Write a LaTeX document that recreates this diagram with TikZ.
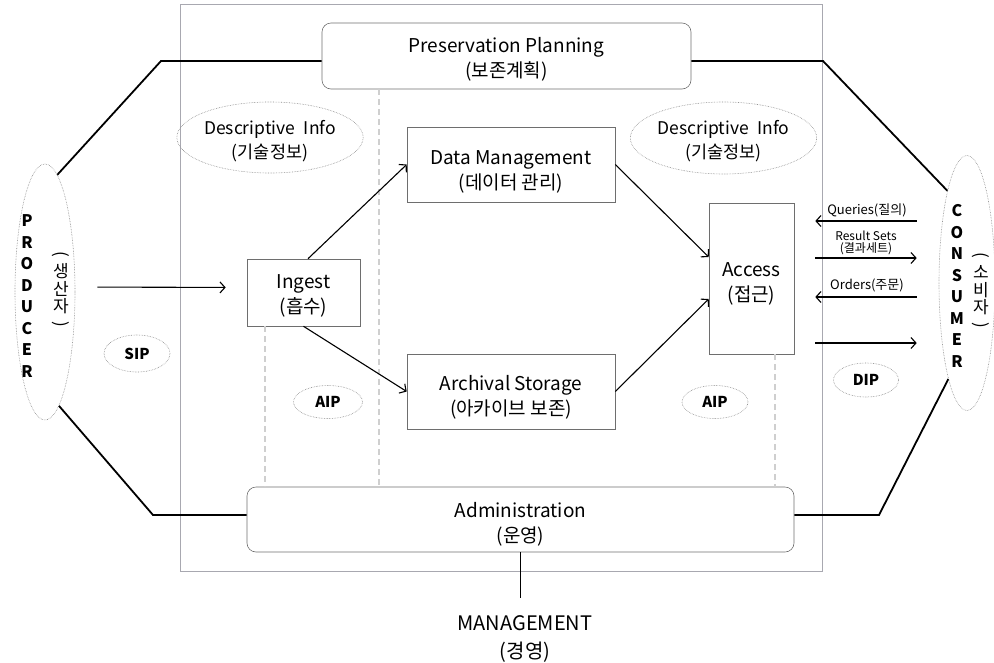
\documentclass[tikz,border=0pt]{standalone}
\usepackage{fontspec}
\setmainfont{Noto Sans CJK KR}
\usetikzlibrary{arrows.meta,shapes.geometric}
\definecolor{boxgray}{HTML}{6E6E6E}
\definecolor{framegray}{HTML}{A8A8B0}
\definecolor{ovalgray}{HTML}{8A8A8A}
\definecolor{guidegray}{HTML}{CFCFCF}
\newcommand{\topparen}{\rotatebox[origin=c]{-90}{(}}
\newcommand{\botparen}{\rotatebox[origin=c]{-90}{)}}
% invisible strut that lowers a two-line label inside its box
\newcommand{\dropby}[1]{\rule{0pt}{#1}}
\begin{document}
\begin{tikzpicture}[x=1pt,y=-1pt,
  block/.style={draw=boxgray, line width=0.6pt, align=center, inner sep=0pt,
    font=\fontsize{19}{25.5}\selectfont},
  roundblock/.style={block, rounded corners=9pt},
  oval/.style={ellipse, draw=ovalgray, densely dotted, line width=0.6pt,
    inner sep=0pt, align=center},
  link/.style={line width=1.8pt, black},
  flow/.style={line width=1.1pt, black, -{Straight Barb[length=5pt,width=11pt]}},
  guide/.style={draw=guidegray, line width=1.1pt, dash pattern=on 6pt off 4pt},
  sidelabel/.style={inner sep=0pt, align=center, font=\bfseries\fontsize{16}{21.5}\selectfont},
  vkorean/.style={inner sep=0pt, align=center, font=\fontsize{17}{17.5}\selectfont},
  tag/.style={inner sep=0pt, align=center, font=\fontsize{13}{14}\selectfont},
  packet/.style={oval, font=\bfseries\fontsize{15}{16}\selectfont}
]
\useasboundingbox (0,0) rectangle (994,662);

% system boundary
\node[draw=framegray, line width=0.6pt, minimum width=642pt, minimum height=567pt,
  inner sep=0pt] (frame) at (501,287.5) {};

% guide columns
\coordinate (lcol) at (265,0);
\coordinate (mcol) at (379,0);
\coordinate (rcol) at (775,0);

% functional entities
\node[roundblock, minimum width=369pt, minimum height=66pt] (pp) at (506.5,56)
  {\dropby{21.5pt}Preservation Planning\\(보존계획)};
\node[roundblock, minimum width=547pt, minimum height=65pt] (admin) at (520.5,519.5)
  {\dropby{24.5pt}Administration\\(운영)};
\node[block, minimum width=113pt, minimum height=67pt] (ingest) at (303.5,292.5)
  {\dropby{21pt}Ingest\\(흡수)};
\node[block, minimum width=208pt, minimum height=75pt] (dm) at (511,164.5)
  {\dropby{28.5pt}Data Management\\(데이터 관리)};
\node[block, minimum width=208pt, minimum height=75pt] (as) at (511,391.5)
  {\dropby{26.5pt}Archival Storage\\(아카이브 보존)};
\node[block, minimum width=85pt, minimum height=151pt] (access) at (751.5,278.5)
  {\dropby{24.5pt}Access\\(접근)};

% dashed separators
\draw[guide] (ingest.south -| lcol) -- (admin.north -| lcol);
\draw[guide] (pp.south -| mcol) -- (admin.north -| mcol);
\draw[guide] (access.south -| rcol) -- (admin.north -| rcol);

% outside actors
\node[oval, minimum width=60pt, minimum height=256pt] (producer) at (45,292) {};
\node[sidelabel] (producertxt) at (27,296) {P\\R\\O\\D\\U\\C\\E\\R};
\node[vkorean] (producerko) at (61,291) {\topparen\\생\\산\\자\\\botparen};
\node[oval, minimum width=56pt, minimum height=255pt] (consumer) at (967,283) {};
\node[sidelabel] (consumertxt) at (957,286) {C\\O\\N\\S\\U\\M\\E\\R};
\node[vkorean] (consumerko) at (981,292) {\topparen\\소\\비\\자\\\botparen};

% information packages
\node[oval, minimum width=161pt, minimum height=71pt, font=\fontsize{17.5}{24}\selectfont]
  (descl) at (270,137.5) {\dropby{20.5pt}Descriptive\hspace{0.5em}Info\\(기술정보)};
\node[oval, minimum width=161pt, minimum height=72pt, font=\fontsize{17.5}{24}\selectfont]
  (descr) at (723.5,138) {\dropby{20.5pt}Descriptive\hspace{0.5em}Info\\(기술정보)};
\node[packet, minimum width=66pt, minimum height=37pt] (sip) at (137,353.5) {SIP};
\node[packet, minimum width=69pt, minimum height=33pt] (aipl) at (328,402) {AIP};
\node[packet, minimum width=66pt, minimum height=33pt] (aipr) at (715,402) {AIP};
\node[packet, minimum width=65pt, minimum height=34pt] (dip) at (866,380) {DIP};

% management
\node[inner sep=0pt, align=center, font=\fontsize{20}{28}\selectfont] (mgmt) at (525,639)
  {MANAGEMENT\\(경영)};
\coordinate (mgmtend) at (520.5,598);
\draw[line width=1.3pt] (admin.south) -- (mgmtend);

% producer / consumer ties to planning and administration
\coordinate (pbend) at (161,61);
\coordinate (abend) at (153,515);
\coordinate (cpbend) at (823,61);
\coordinate (cabend) at (879,515);
\draw[link] (producer.84) -- (pbend) -- (pbend -| pp.west);
\draw[link] (producer.-83) -- (abend) -- (abend -| admin.west);
\draw[link] (cpbend -| pp.east) -- (cpbend) -- (consumer.102);
\draw[link] (cabend -| admin.east) -- (cabend) -- (consumer.-101);

% submission and internal flows
\draw[flow, shorten <=22pt, shorten >=21pt] ([yshift=5pt]producer.east) -- ([yshift=5pt]ingest.west);
\draw[flow] ([xshift=4.5pt]ingest.north) -- (dm.west);
\draw[flow] (ingest.south) -- (as.west);
\draw[flow] (dm.east) -- ([yshift=21.5pt]access.west);
\draw[flow] (as.east) -- ([yshift=-20.5pt]access.west);

% access exchanges with the consumer
\coordinate (qy) at (0,221);
\coordinate (ry) at (0,258);
\coordinate (oy) at (0,297);
\coordinate (dy) at (0,343);
\draw[flow, shorten <=22pt, shorten >=21pt] (consumer.west |- qy) -- (access.east |- qy);
\draw[flow, shorten <=21pt, shorten >=22pt] (access.east |- ry) -- (consumer.west |- ry);
\draw[flow, shorten <=22pt, shorten >=21pt] (consumer.west |- oy) -- (access.east |- oy);
\draw[flow, shorten <=21pt, shorten >=22pt] (access.east |- dy) -- (consumer.west |- dy);
\node[tag] (qlabel) at (867,210) {Queries(질의)};
\node[tag, font=\fontsize{12}{12.5}\selectfont] (rlabel) at (866,243) {Result Sets\\(결과세트)};
\node[tag] (olabel) at (867,285) {Orders(주문)};
\end{tikzpicture}
\end{document}
